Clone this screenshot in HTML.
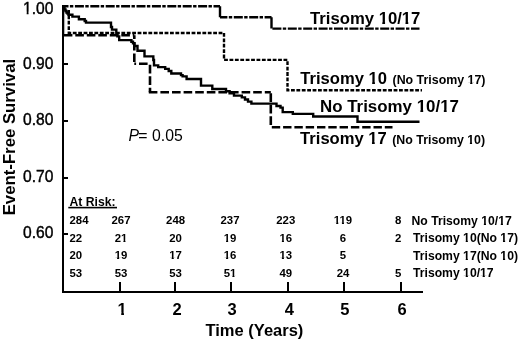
<!DOCTYPE html>
<html><head><meta charset="utf-8">
<style>
html,body{margin:0;padding:0;background:#fff;width:520px;height:342px;overflow:hidden}
svg{display:block;will-change:transform}
text{font-family:"Liberation Sans",sans-serif;fill:#000}
.b{font-weight:bold}
</style></head><body>
<svg width="520" height="342" viewBox="0 0 520 342">
<rect width="520" height="342" fill="#fff"/>
<!-- axes -->
<g stroke="#000" stroke-width="2" fill="none" shape-rendering="crispEdges">
<path d="M62.5 5 V292 H423"/>
<path d="M63 64 H68 M63 121 H68 M63 177.5 H68 M63 234 H68"/>
<path d="M120 282 V292 M175 282 V292 M231 282 V292 M288 282 V292 M343.5 282 V292 M400.5 282 V292"/>
</g>
<!-- y labels -->
<g font-size="15.6" stroke="#000" stroke-width="0.4">
<text x="23" y="13.5">1.00</text>
<text x="23" y="69">0.90</text>
<text x="23" y="124.5">0.80</text>
<text x="23" y="182">0.70</text>
<text x="23" y="238">0.60</text>
</g>
<text class="b" font-size="16.75" transform="translate(14.9,215.3) rotate(-90)">Event-Free Survival</text>
<!-- x labels -->
<g class="b" font-size="16.5" text-anchor="middle">
<text x="122.2" y="314.5">1</text>
<text x="177" y="314.5">2</text>
<text x="232.2" y="314.5">3</text>
<text x="289.4" y="314.5">4</text>
<text x="344.8" y="314.5">5</text>
<text x="402" y="314.5">6</text>
</g>
<text class="b" font-size="16.5" x="205.5" y="336">Time (Years)</text>
<!-- curves -->
<g fill="none" stroke="#000" stroke-width="2.4" stroke-linejoin="miter">
<!-- Trisomy 10/17 dash-dot -->
<path stroke-dasharray="9 1.4 3.4 1.6" stroke-dashoffset="3" d="M62.5 6.3 H220"/>
<path d="M220 6.3 V17.2 M271.5 17.2 V28.6"/>
<path stroke-dasharray="9 1.4 3.4 1.6" stroke-dashoffset="1.6" d="M220 17.2 H271.5"/>
<path stroke-dasharray="9 1.4 3.4 1.6" stroke-dashoffset="14.5" d="M271.5 28.6 H419.5"/>
<!-- Trisomy 10 dotted -->
<path stroke-width="2.4" stroke-dasharray="3.8 1.6" d="M68.8 10 V33 H224 V59.9 H287.5 V90.2 H422"/>
<!-- Trisomy 17 dashed -->
<path stroke="#aaa" stroke-width="1" d="M64.6 8 V34"/>
<g stroke-width="2.6">
<path stroke-dasharray="8.6 2.9" d="M63.8 35.2 H134.3"/>
<path stroke-dasharray="8.6 2.9" stroke-dashoffset="4.7" d="M134.3 35.2 V63.8"/>
<path stroke-dasharray="8.6 2.9" stroke-dashoffset="6.8" d="M134.3 63.8 H150"/>
<path stroke-dasharray="8.6 2.9" stroke-dashoffset="-1" d="M150 63.8 V92.3"/>
<path stroke-dasharray="8.6 3" d="M148.8 92.3 H270.8"/>
<path stroke-dasharray="8.6 2.9" stroke-dashoffset="-1" d="M270.8 92.3 V125"/>
<path stroke-dasharray="8.4 2.9" d="M271.8 127.3 H392.5"/>
</g>
<!-- No trisomy solid -->
<path d="M62.5 6.3 H63.5 V8 H64.5 V9.5 H65.5 V11 H66.5 V12.5 H67.5 V13.5 H68.5 V14.7 H72.4 V16.6 H78.9 V19.3 H84.7 V21 H86 V22.6 H111 V27 H112 V29.6 H116.3 V34.7 H117.4 V36.4 H119.2 V40.1 H131.4 V41.7 H133 V43.4 H134.4 V46 H137.5 V50.8 H144.5 V56.4 H153.3 V60 H154 V65.4 H158.2 V67.1 H165.2 V68.9 H168.7 V71 H171.3 V73.5 H181 V75.1 H182.6 V76.4 H186.6 V79 H201 V85.6 H212.3 V89 H226 V91.2 H229.6 V93.4 H234 V95.6 H241.8 V97.4 H245 V99.5 H248 V101.6 H251.4 V103.6 H276.5 V106 H280.5 V107.6 H282.7 V112.1 H292.8 V113.9 H313.2 V116.5 H357.5 V121.7 H419.5"/>
</g>
<!-- curve labels -->
<text class="b" font-size="16.7" x="310" y="24.3">Trisomy 10/17</text>
<text class="b" font-size="16.6" x="300.3" y="84">Trisomy 10</text>
<text class="b" font-size="12.4" x="392.5" y="84.4">(No Trisomy 17)</text>
<text class="b" font-size="16.9" x="320" y="112">No Trisomy 10/17</text>
<text class="b" font-size="16.6" x="300.1" y="143.6">Trisomy 17</text>
<text class="b" font-size="12.4" x="392.2" y="143.6">(No Trisomy 10)</text>
<text font-size="15.8" x="128.6" y="141.2"><tspan font-style="italic">P</tspan><tspan dx="-0.8">=</tspan> 0.05</text>
<!-- At risk table -->
<g class="b" font-size="12.2">
<text x="69.5" y="206">At Risk:</text>
<rect x="68.3" y="206.8" width="48.7" height="1.6" fill="#000"/>
<g font-size="11.4">
<text x="69.5" y="224">284</text>
<text x="69.5" y="241.6">22</text>
<text x="69.5" y="259.3">20</text>
<text x="69.5" y="277">53</text>
</g>
<g text-anchor="middle" font-size="11.4">
<text x="121" y="224">267</text><text x="121" y="241.6">21</text><text x="121" y="259.3">19</text><text x="121" y="277">53</text>
<text x="175.6" y="224">248</text><text x="175.6" y="241.6">20</text><text x="175.6" y="259.3">17</text><text x="175.6" y="277">53</text>
<text x="230" y="224">237</text><text x="230" y="241.6">19</text><text x="230" y="259.3">16</text><text x="230" y="277">51</text>
<text x="285.8" y="224">223</text><text x="285.8" y="241.6">16</text><text x="285.8" y="259.3">13</text><text x="285.8" y="277">49</text>
<text x="343" y="224">119</text><text x="343" y="241.6">6</text><text x="343" y="259.3">5</text><text x="343" y="277">24</text>
<text x="398.2" y="224">8</text><text x="398.2" y="241.6">2</text><text x="398.2" y="277">5</text>
</g>
<text x="411.5" y="224.5">No Trisomy 10/17</text>
<text x="413" y="242">Trisomy 10(No 17)</text>
<text x="413" y="259.7">Trisomy 17(No 10)</text>
<text x="413" y="277.4">Trisomy 10/17</text>
</g>






<g id="fm" fill="#fff"><rect x="23.39" y="11.73" width="3.28" height="3.37"/><rect x="28.55" y="11.73" width="3.16" height="3.37"/><rect x="117.85" y="312.22" width="3.36" height="3.88"/><rect x="123.97" y="312.22" width="3.15" height="3.88"/><rect x="378.88" y="22.00" width="3.40" height="3.90"/><rect x="385.06" y="22.00" width="3.18" height="3.90"/><rect x="402.08" y="22.00" width="3.40" height="3.90"/><rect x="408.27" y="22.00" width="3.18" height="3.90"/><rect x="368.78" y="81.71" width="3.38" height="3.89"/><rect x="374.94" y="81.71" width="3.17" height="3.89"/><rect x="467.51" y="82.53" width="2.66" height="3.47"/><rect x="472.38" y="82.53" width="2.51" height="3.47"/><rect x="416.94" y="109.68" width="3.43" height="3.92"/><rect x="423.19" y="109.68" width="3.22" height="3.92"/><rect x="440.41" y="109.68" width="3.43" height="3.92"/><rect x="446.65" y="109.68" width="3.22" height="3.92"/><rect x="368.58" y="141.31" width="3.38" height="3.89"/><rect x="374.74" y="141.31" width="3.17" height="3.89"/><rect x="467.21" y="141.73" width="2.66" height="3.47"/><rect x="472.08" y="141.73" width="2.51" height="3.47"/><rect x="120.91" y="239.84" width="2.49" height="3.36"/><rect x="125.47" y="239.84" width="2.35" height="3.36"/><rect x="114.58" y="257.54" width="2.49" height="3.36"/><rect x="119.14" y="257.54" width="2.35" height="3.36"/><rect x="169.18" y="257.54" width="2.49" height="3.36"/><rect x="173.74" y="257.54" width="2.35" height="3.36"/><rect x="223.58" y="239.84" width="2.49" height="3.36"/><rect x="228.14" y="239.84" width="2.35" height="3.36"/><rect x="223.58" y="257.54" width="2.49" height="3.36"/><rect x="228.14" y="257.54" width="2.35" height="3.36"/><rect x="229.91" y="275.24" width="2.49" height="3.36"/><rect x="234.47" y="275.24" width="2.35" height="3.36"/><rect x="279.38" y="239.84" width="2.49" height="3.36"/><rect x="283.94" y="239.84" width="2.35" height="3.36"/><rect x="279.38" y="257.54" width="2.49" height="3.36"/><rect x="283.94" y="257.54" width="2.35" height="3.36"/><rect x="333.72" y="222.24" width="2.49" height="3.36"/><rect x="338.28" y="222.24" width="2.35" height="3.36"/><rect x="339.43" y="222.24" width="2.49" height="3.36"/><rect x="343.98" y="222.24" width="2.35" height="3.36"/><rect x="481.22" y="222.65" width="2.63" height="3.45"/><rect x="486.02" y="222.65" width="2.47" height="3.45"/><rect x="498.16" y="222.65" width="2.63" height="3.45"/><rect x="502.96" y="222.65" width="2.47" height="3.45"/><rect x="463.08" y="240.15" width="2.63" height="3.45"/><rect x="467.88" y="240.15" width="2.47" height="3.45"/><rect x="500.33" y="240.15" width="2.63" height="3.45"/><rect x="505.13" y="240.15" width="2.47" height="3.45"/><rect x="463.08" y="257.85" width="2.63" height="3.45"/><rect x="467.88" y="257.85" width="2.47" height="3.45"/><rect x="500.33" y="257.85" width="2.63" height="3.45"/><rect x="505.13" y="257.85" width="2.47" height="3.45"/><rect x="463.08" y="275.55" width="2.63" height="3.45"/><rect x="467.88" y="275.55" width="2.47" height="3.45"/><rect x="480.03" y="275.55" width="2.63" height="3.45"/><rect x="484.83" y="275.55" width="2.47" height="3.45"/></g><!--fm-->
</svg>
</body></html>
